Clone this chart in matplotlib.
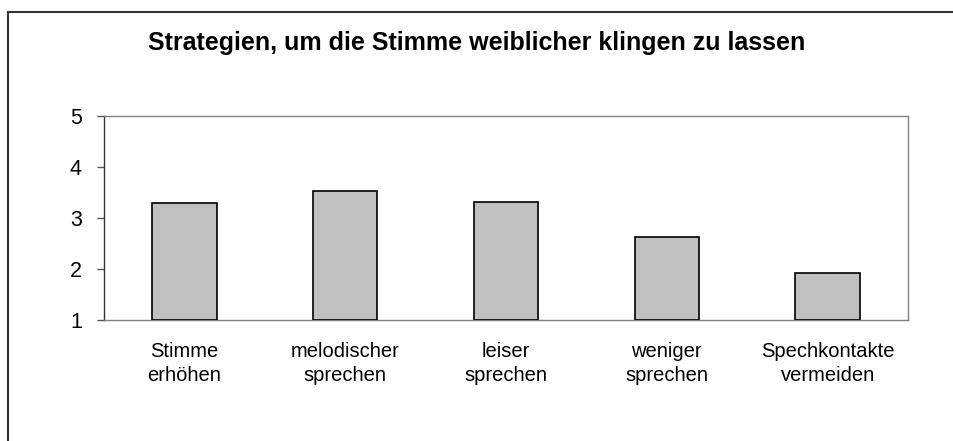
import numpy as np
import matplotlib.pyplot as plt

plt.rcParams['font.family'] = ['Liberation Sans', 'DejaVu Sans']

categories = ['Stimme\nerhöhen', 'melodischer\nsprechen', 'leiser\nsprechen',
              'weniger\nsprechen', 'Spechkontakte\nvermeiden']
values = [3.29, 3.53, 3.31, 2.63, 1.93]
y_ticks = [1, 2, 3, 4, 5]
title = 'Strategien, um die Stimme weiblicher klingen zu lassen'

fig = plt.figure(figsize=(9.54, 4.41), dpi=100)
ax = fig.add_axes([104/954, 1 - 320/441, 804/954, 204/441])

x = np.arange(len(categories))
# bars start at the baseline 1, like the Excel chart
ax.bar(x, np.array(values) - 1, bottom=1, width=0.40,
       color='#c0c0c0', edgecolor='black', linewidth=1.2, zorder=3)

ax.set_xlim(-0.5, len(categories) - 0.5)
ax.set_ylim(1, 5)
ax.set_yticks(y_ticks)
ax.set_yticklabels([str(t) for t in y_ticks], fontsize=15.5)
ax.set_xticks(x)
ax.set_xticklabels(categories, fontsize=14.5, linespacing=1.3)
ax.tick_params(axis='x', length=0, pad=16)
ax.tick_params(axis='y', length=5, width=1, color='#555555', pad=11)

for side in ['top', 'right', 'bottom']:
    ax.spines[side].set_color('#808080')
    ax.spines[side].set_linewidth(1)
ax.spines['left'].set_color('#333333')
ax.spines['left'].set_linewidth(1)

fig.text(477/954, 1 - 50/441, title, ha='center', va='baseline',
         fontsize=18, fontweight='bold')

# outer chart frame (only top and left visible in the crop)
fig.add_artist(plt.Line2D([8.5/954, 1], [1 - 12/441, 1 - 12/441],
                          color='#333333', linewidth=1.5, transform=fig.transFigure))
fig.add_artist(plt.Line2D([8.5/954, 8.5/954], [0, 1 - 12/441],
                          color='#333333', linewidth=1.5, transform=fig.transFigure))

fig.savefig('out.png', dpi=100)
